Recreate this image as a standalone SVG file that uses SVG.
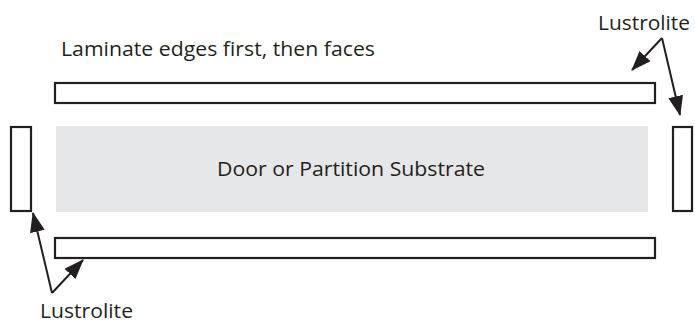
<svg xmlns="http://www.w3.org/2000/svg" width="695" height="325" viewBox="0 0 695 325">
<defs>
<style>
.t{font-family:"Source Sans Pro","Open Sans","Noto Sans",sans-serif;font-size:20.5px;fill:#231f20}
.bar{fill:#fff;stroke:#231f20;stroke-width:2.2}
.sub{fill:#e6e7e8}
.c{stroke:#231f20;stroke-width:2;fill:none}
</style>
<marker id="ah" markerUnits="userSpaceOnUse" markerWidth="20" markerHeight="15" refX="19" refY="7.5" orient="auto">
<path d="M0,0 L20,7.5 L0,15 Z" fill="#231f20"/>
</marker>
</defs>
<text class="t" x="61" y="56" textLength="314" lengthAdjust="spacingAndGlyphs">Laminate edges first, then faces</text>
<g id="top-bar"><rect class="bar" x="55" y="83" width="600" height="20"/></g>
<g id="substrate"><rect class="sub" x="56" y="126" width="592" height="86"/><text class="t" x="217" y="176" textLength="268" lengthAdjust="spacingAndGlyphs">Door or Partition Substrate</text></g>
<g id="left-edge"><rect class="bar" x="11" y="127" width="20" height="84"/></g>
<g id="right-edge"><rect class="bar" x="673" y="127" width="19" height="84"/></g>
<g id="bottom-bar"><rect class="bar" x="55" y="238" width="600" height="20"/></g>
<g id="label-top"><text class="t" x="598" y="30" textLength="92" lengthAdjust="spacingAndGlyphs">Lustrolite</text></g>
<g id="label-bottom"><text class="t" x="40" y="318" textLength="93" lengthAdjust="spacingAndGlyphs">Lustrolite</text></g>
<g id="connectors">
<line class="c" x1="662" y1="38" x2="632" y2="70" marker-end="url(#ah)"/>
<line class="c" x1="662" y1="38" x2="680" y2="115" marker-end="url(#ah)"/>
<line class="c" x1="52" y1="293" x2="33" y2="213" marker-end="url(#ah)"/>
<line class="c" x1="52" y1="293" x2="83" y2="260" marker-end="url(#ah)"/>
</g>
</svg>
